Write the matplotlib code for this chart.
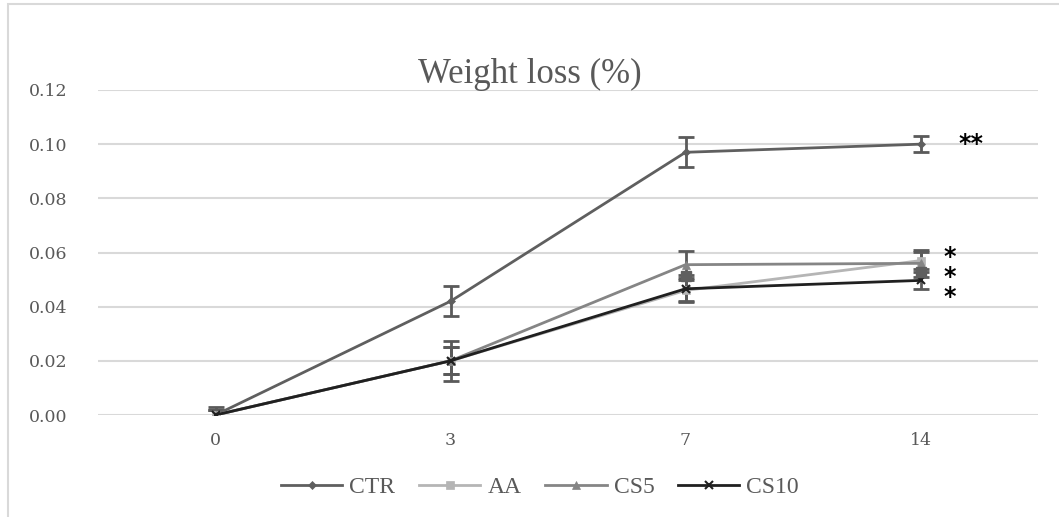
import matplotlib
matplotlib.use("Agg")
import matplotlib.pyplot as plt
from matplotlib.patches import Rectangle

# Datos
days = ["0", "3", "7", "14"]
ctr = [0.000, 0.042, 0.097, 0.100]
aa = [0.000, 0.020, 0.046, 0.057]
cs5 = [0.000, 0.020, 0.0555, 0.056]
cs10 = [0.000, 0.020, 0.0466, 0.0497]
ctr_err = [0.003, 0.0055, 0.0055, 0.003]
aa_err = [0.002, 0.005, 0.004, 0.003]
cs5_err = [0.002, 0.0075, 0.005, 0.005]
cs10_err = [0.002, 0.005, 0.005, 0.003]
# marcadores oscuros sueltos (sin linea) en los dias 7 y 14
extra_sq = [None, None, 0.0514, 0.0527]
# marcas de significancia: CTR y el grupo AA/CS5/CS10
sig_ctr = "**"
sig_ctr_y = 0.100
sig_group = "*\n*\n*"
sig_group_y = 0.052

SERIES = [
    ("CTR", ctr, ctr_err, "#5f5f5f", "D", 4),
    ("AA", aa, aa_err, "#b5b5b5", "s", 6),
    ("CS5", cs5, cs5_err, "#858585", "^", 6),
    ("CS10", cs10, cs10_err, "#202020", "x", 6),
]

fig = plt.figure(figsize=(10.59, 5.17), dpi=100)
ax = fig.add_axes([98 / 1059, (517 - 415) / 517, 940 / 1059, 325 / 517])

xs = range(len(days))
for name, vals, errs, col, mk, ms in SERIES:
    ax.errorbar(xs, vals, yerr=errs, fmt="none", ecolor="#5a5a5a",
                elinewidth=2, capsize=6, capthick=2, zorder=3)
for name, vals, errs, col, mk, ms in SERIES:
    ax.plot(xs, vals, color=col, lw=2, marker=mk, markersize=ms,
            markeredgewidth=1.5 if mk == "x" else 0.5, markeredgecolor=col,
            label=name, zorder=4)

ex = [i for i, v in enumerate(extra_sq) if v is not None]
ey = [v for v in extra_sq if v is not None]
ax.plot(ex, ey, linestyle="none", marker="s", markersize=7,
        color="#5f5f5f", zorder=5)

ax.annotate(sig_ctr, xy=(3, sig_ctr_y), xytext=(36, 0), textcoords="offset points",
            ha="center", va="center", fontsize=17, fontweight="bold",
            family="DejaVu Sans", color="black")
ax.annotate(sig_group, xy=(3, sig_group_y), xytext=(21, -2), textcoords="offset points",
            ha="center", va="center", fontsize=17, fontweight="bold",
            family="DejaVu Sans", color="black", linespacing=0.78)

ax.set_xlim(-0.5, 3.5)
ax.set_ylim(0, 0.12)
ax.set_yticks([0, 0.02, 0.04, 0.06, 0.08, 0.10, 0.12])
ax.set_yticklabels([f"{v:.2f}" for v in ax.get_yticks()])
ax.set_xticks(list(xs))
ax.set_xticklabels(days)
ax.grid(axis="y", color="#d9d9d9", lw=1.5)
ax.set_axisbelow(True)
for s in ax.spines.values():
    s.set_visible(False)
ax.tick_params(length=0, labelsize=12.5, labelcolor="#595959")
for t in ax.get_xticklabels() + ax.get_yticklabels():
    t.set_family("DejaVu Serif")
ax.tick_params(axis="x", pad=12)
ax.tick_params(axis="y", pad=22)

fig.text(0.5, 1 - 74 / 517, "Weight loss (%)", ha="center", va="center",
         fontsize=25, family="Liberation Serif", color="#595959")

leg = fig.legend(loc="center", bbox_to_anchor=(540 / 1059, 1 - 487 / 517), ncol=4,
                 frameon=False, handlelength=2.6, columnspacing=1.0, handletextpad=0.3,
                 prop={"family": "Liberation Serif", "size": 17})
for t in leg.get_texts():
    t.set_color("#595959")

fig.patches.append(Rectangle((8 / 1059, -0.2), 1.2, 1.2 - 4 / 517,
                             transform=fig.transFigure, fill=False,
                             edgecolor="#d9d9d9", lw=1.5))

fig.savefig("out.png", dpi=100)
